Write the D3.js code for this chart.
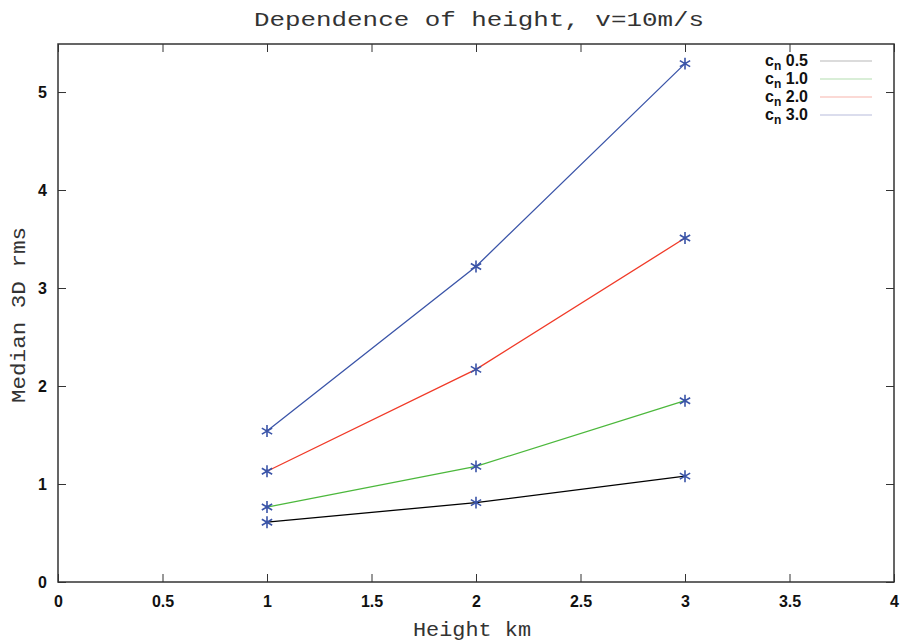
<!DOCTYPE html>
<html>
<head>
<meta charset="utf-8">
<script src="https://cdn.jsdelivr.net/npm/d3@7"></script>
<style>
  body { margin: 0; background: #fff; }
  svg { display: block; }
</style>
</head>
<body>
<div id="chart"></div>
<script>
// Data
const heights = [1, 2, 3];
const cn05 = [0.61, 0.81, 1.08];
const cn10 = [0.765, 1.18, 1.85];
const cn20 = [1.13, 2.17, 3.51];
const cn30 = [1.54, 3.22, 5.29];
const seriesNames = ['0.5', '1.0', '2.0', '3.0'];
const seriesValues = [cn05, cn10, cn20, cn30];
const lineColours = ['#000000', '#4cb83c', '#f03a28', '#3a54a8'];
const legendColours = ['#b8b8b8', '#b4deb0', '#f8b4ac', '#b8bcdc'];
const xTicks = [0, 0.5, 1, 1.5, 2, 2.5, 3, 3.5, 4];
const yTicks = [0, 1, 2, 3, 4, 5];

const width = 900, height = 643;
const margin = { top: 44, right: 6, bottom: 61, left: 58 };

const svg = d3.select('#chart').append('svg')
    .attr('width', width)
    .attr('height', height);

const x = d3.scaleLinear().domain([0, 4]).range([margin.left, width - margin.right]);
const y = d3.scaleLinear().domain([0, 5.49]).range([height - margin.bottom, margin.top]);

const tickFont = 'Liberation Sans, Arial, sans-serif';
const monoFont = 'Liberation Mono, Courier New, monospace';

// Axes: gnuplot-style inward ticks on all four sides
const axisColour = '#333';
function styleAxis(g) {
    g.select('.domain').remove();
    g.selectAll('line').attr('stroke', axisColour).attr('stroke-width', 1);
    g.selectAll('text')
        .attr('fill', '#111')
        .style('font-family', tickFont)
        .style('font-size', '16px')
        .style('font-weight', 'bold');
}

svg.append('g')
    .attr('transform', `translate(0,${y(0)})`)
    .call(d3.axisBottom(x).tickValues(xTicks).tickSizeInner(-8).tickSizeOuter(0).tickPadding(14)
        .tickFormat(d3.format('')))
    .call(styleAxis);

svg.append('g')
    .attr('transform', `translate(0,${margin.top})`)
    .call(d3.axisTop(x).tickValues(xTicks).tickSizeInner(-8).tickSizeOuter(0).tickFormat(''))
    .call(styleAxis);

svg.append('g')
    .attr('transform', `translate(${x(0)},0)`)
    .call(d3.axisLeft(y).tickValues(yTicks).tickSizeInner(-8).tickSizeOuter(0).tickPadding(11)
        .tickFormat(d3.format('d')))
    .call(styleAxis);

svg.append('g')
    .attr('transform', `translate(${x(4)},0)`)
    .call(d3.axisRight(y).tickValues(yTicks).tickSizeInner(-8).tickSizeOuter(0).tickFormat(''))
    .call(styleAxis);

// Frame
svg.append('rect')
    .attr('x', x(0))
    .attr('y', y.range()[1])
    .attr('width', x(4) - x(0))
    .attr('height', y.range()[0] - y.range()[1])
    .attr('fill', 'none')
    .attr('stroke', axisColour)
    .attr('stroke-width', 1.5);

// Lines
const line = d3.line()
    .x((d, i) => x(heights[i]))
    .y(d => y(d));

seriesValues.forEach((vals, k) => {
    svg.append('path')
        .datum(vals)
        .attr('fill', 'none')
        .attr('stroke', lineColours[k])
        .attr('stroke-width', 1.3)
        .attr('d', line);
});

// Asterisk markers
const star = d3.symbol().type(d3.symbolAsterisk).size(100);
seriesValues.forEach(vals => {
    svg.append('g')
        .selectAll('path')
        .data(vals)
        .join('path')
        .attr('transform', (d, i) => `translate(${x(heights[i])},${y(d)})`)
        .attr('d', star)
        .attr('fill', 'none')
        .attr('stroke', '#3a54a8')
        .attr('stroke-width', 1.6);
});

// Legend
const legend = svg.append('g');
seriesNames.forEach((name, k) => {
    const ly = 61 + k * 18;
    const t = legend.append('text')
        .attr('x', 808)
        .attr('y', ly + 5)
        .attr('text-anchor', 'end')
        .attr('fill', '#111')
        .style('font-family', tickFont)
        .style('font-size', '16px')
        .style('font-weight', 'bold');
    t.append('tspan').text('c');
    t.append('tspan').attr('dy', 4).style('font-size', '12px').text('n');
    t.append('tspan').attr('dy', -4).text(' ' + name);
    legend.append('line')
        .attr('x1', 820).attr('x2', 872)
        .attr('y1', ly).attr('y2', ly)
        .attr('stroke', legendColours[k])
        .attr('stroke-width', 1.2);
});

// Title and axis labels
function monoLabel(text, len) {
    return svg.append('text')
        .attr('text-anchor', 'middle')
        .attr('fill', '#333')
        .attr('textLength', len)
        .attr('lengthAdjust', 'spacingAndGlyphs')
        .style('font-family', monoFont)
        .style('font-size', '21px')
        .text(text);
}

monoLabel('Dependence of height, v=10m/s', 450)
    .attr('x', 479).attr('y', 26);

monoLabel('Height km', 118)
    .attr('x', 472).attr('y', 636);

monoLabel('Median 3D rms', 176)
    .attr('transform', 'translate(25,315) rotate(-90)');
</script>
</body>
</html>
